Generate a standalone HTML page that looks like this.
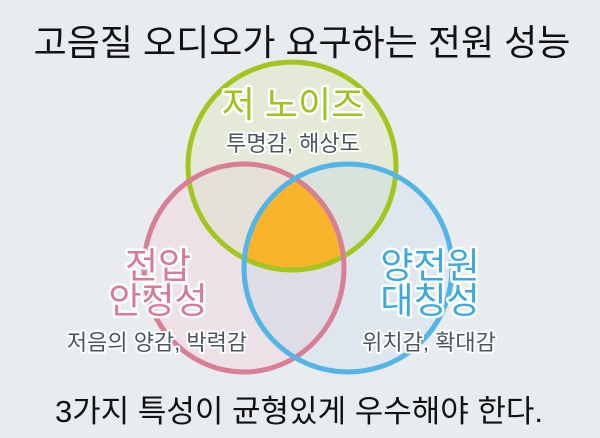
<!DOCTYPE html>
<html><head><meta charset="utf-8"><style>
html,body{margin:0;padding:0;background:#e8ecef;}
svg{display:block;}
text{font-family:"Liberation Sans","Noto Sans CJK KR",sans-serif;}
.o{paint-order:stroke;stroke:#fff;stroke-linejoin:round;}
</style></head><body>
<svg width="600" height="438" viewBox="0 0 600 438" xmlns="http://www.w3.org/2000/svg">
<defs>
<clipPath id="cg"><ellipse cx="292" cy="166" rx="104" ry="104"/></clipPath>
<clipPath id="cp"><ellipse cx="244" cy="268" rx="100" ry="104"/></clipPath>
</defs>
<rect width="600" height="438" fill="#e8ecef"/>
<text x="302" y="55" font-size="36" text-anchor="middle" fill="#111">고음질 오디오가 요구하는 전원 성능</text>
<ellipse cx="292" cy="166" rx="104" ry="104" fill="#e4e9d8"/>
<ellipse cx="244" cy="268" rx="100" ry="104" fill="#ecdfe3" fill-opacity="0.8"/>
<ellipse cx="348" cy="268" rx="104" ry="104" fill="#dae5f0" fill-opacity="0.7"/>
<g clip-path="url(#cg)"><ellipse cx="244" cy="268" rx="100" ry="104" fill="#e6e1d6"/></g>
<g clip-path="url(#cg)"><ellipse cx="348" cy="268" rx="104" ry="104" fill="#d9e3dc"/></g>
<g clip-path="url(#cp)"><ellipse cx="348" cy="268" rx="104" ry="104" fill="#dedde5"/></g>
<g clip-path="url(#cg)"><g clip-path="url(#cp)"><ellipse cx="348" cy="268" rx="104" ry="104" fill="#f8b42a"/></g></g>
<ellipse cx="292" cy="166" rx="104" ry="104" fill="none" stroke="#a2c61e" stroke-width="5"/>
<ellipse cx="244" cy="268" rx="100" ry="104" fill="none" stroke="#d97e94" stroke-width="5"/>
<ellipse cx="348" cy="268" rx="104" ry="104" fill="none" stroke="#52b4e8" stroke-width="5"/>
<text class="o" stroke-width="5" x="293" y="117" font-size="36" text-anchor="middle" fill="#9dc31c">저 노이즈</text>
<text class="o" stroke-width="4" x="293" y="151" font-size="22" text-anchor="middle" fill="#4a5560">투명감, 해상도</text>
<text class="o" stroke-width="5" x="158" y="278" font-size="36" text-anchor="middle" fill="#d87a93">전압</text>
<text class="o" stroke-width="5" x="158" y="313" font-size="36" text-anchor="middle" fill="#d87a93">안정성</text>
<text class="o" stroke-width="4" x="157" y="350" font-size="22" text-anchor="middle" fill="#4a5560">저음의 양감, 박력감</text>
<text class="o" stroke-width="5" x="430" y="278" font-size="36" text-anchor="middle" fill="#3ea8e2">양전원</text>
<text class="o" stroke-width="5" x="430" y="313" font-size="36" text-anchor="middle" fill="#3ea8e2">대칭성</text>
<text class="o" stroke-width="4" x="429" y="350" font-size="22" text-anchor="middle" fill="#4a5560">위치감, 확대감</text>
<text x="299" y="422" font-size="31" text-anchor="middle" fill="#111">3가지 특성이 균형있게 우수해야 한다.</text>
</svg>
</body></html>
